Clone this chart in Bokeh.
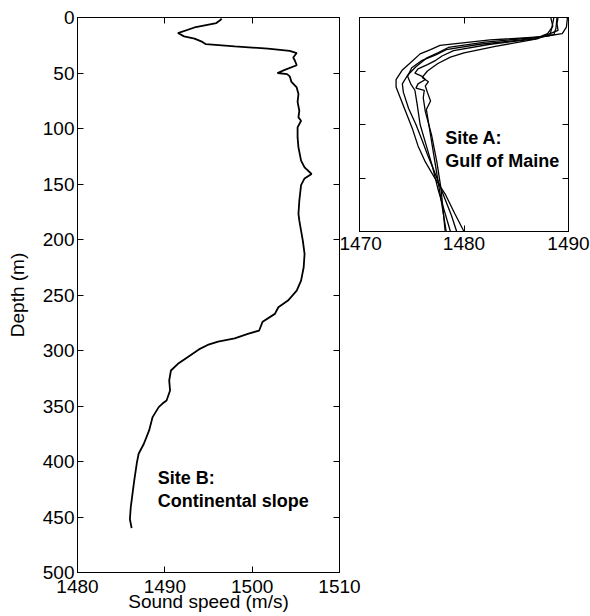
from bokeh.plotting import figure
from bokeh.models import Range1d, LinearAxis, FixedTicker
from bokeh.layouts import row
from bokeh.core.properties import value
from bokeh.embed import file_html
from bokeh.resources import INLINE

# ---------------- data ----------------
# Site B: continental slope (depth m, sound speed m/s)
depth_b = [1, 2, 5, 9, 14, 17, 19, 22, 24, 26, 28, 30, 32, 36, 39, 43, 47, 50, 51, 53,
           58, 63, 69, 76, 84, 90, 93, 99, 108, 117, 129, 135, 141, 145, 151, 165, 177,
           183, 192, 201, 213, 225, 237, 246, 255, 261, 267, 274, 282, 285, 289, 292,
           295, 299, 306, 312, 318, 327, 336, 345, 348, 351, 360, 372, 384, 393, 401,
           417, 429, 441, 452, 460]
speed_b = [1496.5, 1496.4, 1495.9, 1493.4, 1491.5, 1492.2, 1493.4, 1494.3, 1494.7, 1498.0,
           1501.8, 1504.3, 1505.1, 1504.7, 1504.9, 1505.1, 1503.8, 1502.9, 1504.0, 1504.3,
           1504.5, 1505.1, 1505.3, 1505.2, 1505.4, 1505.3, 1505.6, 1505.2, 1505.2, 1505.3,
           1505.6, 1506.0, 1506.8, 1506.0, 1505.6, 1505.4, 1505.3, 1505.4, 1505.6, 1505.8,
           1506.0, 1505.9, 1505.6, 1505.1, 1504.1, 1503.0, 1502.6, 1501.2, 1500.8, 1499.5,
           1498.0, 1496.1, 1494.9, 1493.9, 1492.6, 1491.5, 1490.7, 1490.5, 1490.6, 1490.2,
           1489.7, 1489.3, 1488.6, 1488.2, 1487.6, 1487.0, 1486.8, 1486.5, 1486.3, 1486.1,
           1486.0, 1486.2]

# Site A: Gulf of Maine, five casts
depth_a1 = [0, 9, 15, 18, 21, 26, 30, 34, 42, 49, 58, 65, 75, 90, 105, 120, 135, 150, 165, 183, 200]
speed_a1 = [1489.9, 1489.8, 1489.4, 1487.5, 1482.5, 1477.7, 1476.8, 1475.8, 1474.9, 1474.1,
            1473.5, 1473.5, 1473.9, 1474.5, 1475.1, 1475.6, 1476.3, 1477.2, 1478.2, 1479.1, 1480.0]
depth_a2 = [0, 10, 16, 19, 23, 28, 33, 38, 46, 54, 62, 70, 85, 100, 115, 128, 140, 155, 170, 185, 200]
speed_a2 = [1488.9, 1488.8, 1488.6, 1486.5, 1482.0, 1478.5, 1477.5, 1476.4, 1475.4, 1474.6,
            1474.1, 1474.2, 1474.7, 1475.4, 1476.0, 1476.5, 1477.0, 1477.6, 1478.2, 1478.8, 1479.3]
depth_a3 = [0, 8, 15, 20, 25, 31, 36, 40, 44, 48, 52, 55, 58, 62, 66, 68, 75, 88, 110, 135, 160, 200]
speed_a3 = [1488.3, 1488.5, 1488.0, 1486.8, 1482.5, 1479.0, 1477.9, 1477.3, 1476.5, 1475.6,
            1475.3, 1476.0, 1476.3, 1475.6, 1475.4, 1476.2, 1476.1, 1476.3, 1476.9, 1477.4, 1477.8, 1478.2]
depth_a4 = [0, 6, 12, 20, 27, 33, 37, 43, 50, 56, 60, 64, 70, 78, 82, 86, 110, 140, 170, 200]
speed_a4 = [1489.0, 1488.9, 1489.0, 1487.0, 1483.0, 1480.0, 1478.7, 1477.5, 1476.5, 1476.0,
            1476.6, 1476.3, 1476.5, 1476.8, 1476.6, 1476.4, 1476.8, 1477.3, 1477.8, 1478.3]
depth_a5 = [0, 10, 17, 21, 25, 30, 35, 40, 47, 55, 62, 68, 80, 100, 120, 140, 160, 180, 200]
speed_a5 = [1488.6, 1488.4, 1488.2, 1485.5, 1481.5, 1478.3, 1477.3, 1476.0, 1475.0, 1474.6,
            1474.9, 1475.3, 1475.5, 1475.8, 1476.4, 1477.0, 1477.5, 1478.1, 1478.7]

x_ticks_b = [1480, 1490, 1500, 1510]
y_ticks_b = [0, 50, 100, 150, 200, 250, 300, 350, 400, 450, 500]
x_ticks_a = [1470, 1480, 1490]
y_ticks_a = [0, 50, 100, 150, 200]
site_b_label = ["Site B:\nContinental slope"]
site_a_label = ["Site A:\nGulf of Maine"]
x_label = "Sound speed (m/s)"
y_label = "Depth (m)"

FONT = "Liberation Sans"
FS = "19px"


def style_axis(ax, ticks, labels=True):
    ax.ticker = FixedTicker(ticks=ticks)
    ax.major_tick_in = 6
    ax.major_tick_out = 0
    ax.minor_tick_in = 0
    ax.minor_tick_out = 0
    ax.axis_line_color = "black"
    ax.major_tick_line_color = "black"
    ax.major_label_text_font = FONT
    ax.axis_label_text_font = FONT
    ax.axis_label_text_font_style = "normal"
    ax.axis_label_text_font_size = FS
    ax.axis_label_text_color = "black"
    if labels:
        ax.major_label_text_font_size = FS
        ax.major_label_text_color = "black"
    else:
        ax.major_label_text_font_size = "1px"
        ax.major_label_text_color = None
        ax.major_label_standoff = 0


def make_fig(w, h, xr, yr, bl, br, bt, bb):
    p = figure(width=w, height=h, x_range=xr, y_range=yr,
               output_backend="svg", toolbar_location=None,
               min_border_left=bl, min_border_right=br,
               min_border_top=bt, min_border_bottom=bb)
    p.xgrid.visible = False
    p.ygrid.visible = False
    p.outline_line_color = "black"
    p.outline_line_width = 1
    p.background_fill_color = "white"
    p.border_fill_color = None
    return p


# ---------------- left panel: site B ----------------
p1 = make_fig(364, 616, Range1d(1480, 1510), Range1d(500, 0), 77, 25, 17, 44)
style_axis(p1.xaxis[0], x_ticks_b)
style_axis(p1.yaxis[0], y_ticks_b)
p1.xaxis[0].axis_label = x_label
p1.yaxis[0].axis_label = y_label
p1.xaxis[0].major_label_standoff = 7
p1.xaxis[0].axis_label_standoff = -5
p1.yaxis[0].major_label_standoff = 3
p1.yaxis[0].axis_label_standoff = 12
top1 = LinearAxis()
right1 = LinearAxis()
style_axis(top1, x_ticks_b, labels=False)
style_axis(right1, y_ticks_b, labels=False)
p1.add_layout(top1, "above")
p1.add_layout(right1, "right")
p1.line(speed_b, depth_b, line_color="black", line_width=1.8)
p1.text(x=[1489.2], y=[406], text=site_b_label, text_font=value(FONT),
        text_font_size="18px", text_font_style="bold", text_baseline="top",
        text_align="left", text_line_height=1.15, text_color="black")

# ---------------- right panel: site A ----------------
p2 = make_fig(251, 275, Range1d(1470, 1490), Range1d(200, 0), 20, 22, 17, 36)
style_axis(p2.xaxis[0], x_ticks_a)
style_axis(p2.yaxis[0], y_ticks_a, labels=False)
p2.xaxis[0].major_label_standoff = 5
top2 = LinearAxis()
right2 = LinearAxis()
style_axis(top2, x_ticks_a, labels=False)
style_axis(right2, y_ticks_a, labels=False)
p2.add_layout(top2, "above")
p2.add_layout(right2, "right")
for sp, dp in [(speed_a1, depth_a1), (speed_a2, depth_a2), (speed_a3, depth_a3),
               (speed_a4, depth_a4), (speed_a5, depth_a5)]:
    p2.line(sp, dp, line_color="black", line_width=1.3)
p2.text(x=[1478.2], y=[103], text=site_a_label, text_font=value(FONT),
        text_font_size="18px", text_font_style="bold", text_baseline="top",
        text_align="left", text_line_height=1.15, text_color="black")
p2.margin = (0, 0, 0, -25)

layout = row(p1, p2)
open("out.html", "w").write(file_html(layout, INLINE))
